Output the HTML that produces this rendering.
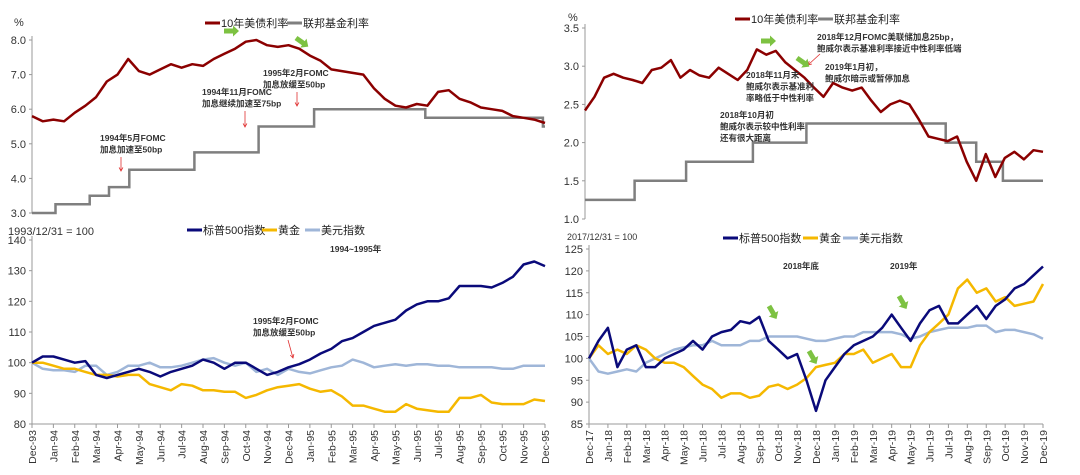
<!DOCTYPE html>
<html><head><meta charset="utf-8">
<style>
html,body{margin:0;padding:0;background:#fff;}
svg{display:block;font-family:"Liberation Sans","Noto Sans CJK SC",sans-serif;}
</style></head>
<body>
<svg id="c" width="1080" height="475" viewBox="0 0 1080 475" xmlns="http://www.w3.org/2000/svg"></svg>
<script>
// ---------- DATA ----------
const tlYield=[5.8,5.65,5.7,5.65,5.9,6.1,6.35,6.8,7.0,7.45,7.1,7.0,7.15,7.3,7.2,7.3,7.25,7.45,7.6,7.75,7.95,8.0,7.85,7.8,7.85,7.75,7.55,7.4,7.15,7.1,7.05,7.0,6.6,6.3,6.1,6.05,6.15,6.1,6.5,6.55,6.3,6.2,6.05,6.0,5.95,5.8,5.75,5.7,5.6];
const tlFedMonths=[0,1.1,2.7,3.6,4.55,7.6,10.6,13.2,18.4,23.9];
const tlFedRates=[3.0,3.25,3.5,3.75,4.25,4.75,5.5,6.0,5.75,5.5];
const trYield=[2.42,2.6,2.85,2.9,2.85,2.82,2.78,2.95,2.98,3.08,2.85,2.95,2.88,2.85,2.98,2.9,2.82,2.95,3.22,3.15,3.2,3.05,2.95,2.85,2.72,2.6,2.78,2.72,2.68,2.72,2.55,2.4,2.5,2.55,2.5,2.3,2.08,2.05,2.02,2.08,1.75,1.5,1.85,1.55,1.8,1.88,1.78,1.9,1.88];
const trFedMonths=[0,2.6,5.3,8.8,11.6,18.9,20.5,21.9];
const trFedRates=[1.25,1.5,1.75,2.0,2.25,2.0,1.75,1.5];
const blSpx=[100,102,102,101,100,100.5,96,95,96,97,98,97,95.5,97,98,99,101,100,98,100,100,98,96,97,98.5,99.5,101,103,104.5,107,108,110,112,113,114,117,119,120,120,121,125,125,125,124.5,126,128,132,133,131.5];
const blGold=[100,100,99,98,98,97,96,96,95.5,96,96,93,92,91,93,92.5,91,91,90.5,90.5,88.5,89.5,91,92,92.5,93,91.5,90.5,91,89,86,86,85,84,84,86.5,85,84.5,84,84,88.5,88.5,89.5,87,86.5,86.5,86.5,88,87.5];
const blUsd=[100,98,97.5,97.5,97,99,99,96,97,99,99,100,98.5,98.5,99,100,101,101.5,100,99,100,97,98,96,98,97,96.5,97.5,98.5,99,101,100,98.5,99,99.5,99,99.5,99.5,99,99,98.5,98.5,98.5,98.5,98,98,99,99,99];
const brSpx=[100,104,107,98,102,103,98,98,100,101,102,104,102,105,106,106.5,108.5,108,109.5,104,102,100,101,95,88,95,98,101,103,104,105,107,110,107,104,108,111,112,108,108,110,112,109,112,113.5,116,117,119,121];
const brGold=[100,103,101,102,101,103,102,100,99,99,98,96,94,93,91,92,92,91,91.5,93.5,94,93,94,95.5,98,98.5,99,101,101,102,99,100,101,98,98,103,106,108,110,116,118,115,116,113,114,112,112.5,113,117];
const brUsd=[100,97,96.5,97,97.5,97,99,100,101,102,102.5,103,103,104,103,103,103,104,104,105,105,105,105,104.5,104,104,104.5,105,105,106,106,106,106,105.5,104.5,105,106,106.5,107,107,107,107.5,107.5,106,106.5,106.5,106,105.5,104.5];
const blMonths=["Dec-93","Jan-94","Feb-94","Mar-94","Apr-94","May-94","Jun-94","Jul-94","Aug-94","Sep-94","Oct-94","Nov-94","Dec-94","Jan-95","Feb-95","Mar-95","Apr-95","May-95","Jun-95","Jul-95","Aug-95","Sep-95","Oct-95","Nov-95","Dec-95"];
const brMonths=["Dec-17","Jan-18","Feb-18","Mar-18","Apr-18","May-18","Jun-18","Jul-18","Aug-18","Sep-18","Oct-18","Nov-18","Dec-18","Jan-19","Feb-19","Mar-19","Apr-19","May-19","Jun-19","Jul-19","Aug-19","Sep-19","Oct-19","Nov-19","Dec-19"];
const tlTicks=[3,4,5,6,7,8];
const trTicks=[1.0,1.5,2.0,2.5,3.0,3.5];
const blTicks=[80,90,100,110,120,130,140];
const brTicks=[85,90,95,100,105,110,115,120,125];

// ---------- HELPERS ----------
const NS="http://www.w3.org/2000/svg";
const svg=document.getElementById('c');
function mk(tag,attrs,parent){const e=document.createElementNS(NS,tag);for(const k in attrs)e.setAttribute(k,attrs[k]);(parent||svg).appendChild(e);return e;}
function txt(x,y,s,size,extra){const e=mk('text',Object.assign({x:x,y:y,'font-size':size,fill:'#222'},extra||{}));e.textContent=s;return e;}
function panel(x0,x1,yTop,yBot,vMin,vMax){return {x:m=>x0+(x1-x0)*m/24,y:v=>yBot-(yBot-yTop)*(v-vMin)/(vMax-vMin),x0,x1,yTop,yBot};}
function series(p,arr,color,w,name){let d='';arr.forEach((v,i)=>{d+=(i?'L':'M')+p.x(i/2).toFixed(1)+','+p.y(v).toFixed(1);});
 const e=mk('path',{d:d,fill:'none',stroke:color,'stroke-width':w,'stroke-linejoin':'round'});
 
 }
function steps(p,months,rates,name){let d='';months.forEach((m,i)=>{const x=p.x(m).toFixed(1),y=p.y(rates[i]).toFixed(1);d+=i?('H'+x+'V'+y):('M'+x+','+y);});d+='H'+p.x(24).toFixed(1);
 const e=mk('path',{d:d,fill:'none',stroke:'#7f7f7f','stroke-width':2.5});
 
 }
function yAxis(p,ticks,dec,name){const g=mk('g',{});
 mk('line',{x1:p.x0,x2:p.x0,y1:p.yTop-4,y2:p.yBot,stroke:'#999','stroke-width':1},g);
 ticks.forEach(t=>{const y=p.y(t);mk('line',{x1:p.x0-3,x2:p.x0,y1:y,y2:y,stroke:'#999'},g);const tt=mk('text',{x:p.x0-6,y:y+4,'font-size':11,'text-anchor':'end',fill:'#333'},g);tt.textContent=t.toFixed(dec);});}
function xAxis(p,labels,name){const g=mk('g',{});
 mk('line',{x1:p.x0,x2:p.x1,y1:p.yBot,y2:p.yBot,stroke:'#999'},g);
 labels.forEach((l,i)=>{const x=p.x(i);mk('line',{x1:x,x2:x,y1:p.yBot,y2:p.yBot+4,stroke:'#999'},g);
  const t=mk('text',{x:0,y:0,'font-size':10.5,fill:'#333','text-anchor':'end',transform:`translate(${x+4},${p.yBot+6}) rotate(-90)`},g);t.textContent=l;});}
function legend(items,y){items.forEach(it=>{const g=mk('g',{});
 mk('line',{x1:it[0],x2:it[0]+15,y1:y,y2:y,stroke:it[1],'stroke-width':3},g);
 const t=mk('text',{x:it[0]+16,y:y+4,'font-size':11,fill:'#222'},g);t.textContent=it[2];});}
function redArrow(x1,y1,x2,y2,name){const g=mk('g',{});
 mk('line',{x1,y1,x2,y2,stroke:'#e03030','stroke-width':0.8},g);
 const a=Math.atan2(y2-y1,x2-x1),s=4;
 mk('path',{d:`M${x2-s*Math.cos(a-0.5)},${y2-s*Math.sin(a-0.5)}L${x2},${y2}L${x2-s*Math.cos(a+0.5)},${y2-s*Math.sin(a+0.5)}`,fill:'none',stroke:'#e03030','stroke-width':0.8},g);}
function greenArrow(x,y,ang,name){const g=mk('g',{transform:`translate(${x},${y}) rotate(${ang})`});
 mk('path',{d:'M0,-2.5H9V-5.5L15,0L9,5.5V2.5H0Z',fill:'#7dc242'},g);}
function note(x,y,lines,name){const g=mk('g',{});
 lines.forEach((l,i)=>{const t=mk('text',{x:x,y:y+i*11.5,'font-size':8.5,'font-weight':'bold',fill:'#333'},g);t.textContent=l;});}

// ---------- PANELS ----------
const tl=panel(32,545,40,213,3,8);
const tr=panel(585,1043,28,219,1,3.5);
const bl=panel(32,545,240,424,80,140);
const br=panel(589,1043,249,424,85,125);

yAxis(tl,tlTicks,1,'tl-y-axis');
yAxis(tr,trTicks,1,'tr-y-axis');
yAxis(bl,blTicks,0,'bl-y-axis');
yAxis(br,brTicks,0,'br-y-axis');
xAxis(bl,blMonths,'bl-x-axis');
xAxis(br,brMonths,'br-x-axis');

steps(tl,tlFedMonths,tlFedRates,'tl-fed-funds-line');
series(tl,tlYield,'#8b0000',2.5,'tl-10y-yield-line');
steps(tr,trFedMonths,trFedRates,'tr-fed-funds-line');
series(tr,trYield,'#8b0000',2.5,'tr-10y-yield-line');

series(bl,blUsd,'#9fb6d8',2.5,'bl-usd-index-line');
series(bl,blGold,'#f5b800',2.5,'bl-gold-line');
series(bl,blSpx,'#0a0a7a',2.5,'bl-sp500-line');
series(br,brUsd,'#9fb6d8',2.5,'br-usd-index-line');
series(br,brGold,'#f5b800',2.5,'br-gold-line');
series(br,brSpx,'#0a0a7a',2.5,'br-sp500-line');

// unit labels
txt(14,26,'%',11,{fill:'#333'});
txt(568,21,'%',11,{fill:'#333'});
txt(8,235,'1993/12/31 = 100',11,{fill:'#333'});
txt(567,240,'2017/12/31 = 100',9,{fill:'#333'});

// legends
legend([[205,'#8b0000','10年美债利率','tl-legend-yield'],[287,'#7f7f7f','联邦基金利率','tl-legend-fed']],23);
legend([[735,'#8b0000','10年美债利率','tr-legend-yield'],[818,'#7f7f7f','联邦基金利率','tr-legend-fed']],19);
legend([[187,'#0a0a7a','标普500指数','bl-legend-sp500'],[262,'#f5b800','黄金','bl-legend-gold'],[305,'#9fb6d8','美元指数','bl-legend-usd']],230);
legend([[723,'#0a0a7a','标普500指数','br-legend-sp500'],[803,'#f5b800','黄金','br-legend-gold'],[843,'#9fb6d8','美元指数','br-legend-usd']],238);

// annotations top-left
note(263,76,['1995年2月FOMC','加息放缓至50bp'],'tl-note-feb95');
redArrow(297,92,297,106,'tl-arrow-feb95');
note(202,95,['1994年11月FOMC','加息继续加速至75bp'],'tl-note-nov94');
redArrow(245,111,245,127,'tl-arrow-nov94');
note(100,141,['1994年5月FOMC','加息加速至50bp'],'tl-note-may94');
redArrow(121,157,121,171,'tl-arrow-may94');
greenArrow(224,31,0,'tl-green-arrow-1');
greenArrow(296,38,35,'tl-green-arrow-2');

// annotations top-right
note(817,40,['2018年12月FOMC美联储加息25bp，','鲍威尔表示基准利率接近中性利率低端'],'tr-note-dec18');
redArrow(820,54,808,65,'tr-arrow-dec18');
note(825,70,['2019年1月初，','鲍威尔暗示或暂停加息'],'tr-note-jan19');
note(746,78,['2018年11月末','鲍威尔表示基准利','率略低于中性利率'],'tr-note-nov18');
note(720,118,['2018年10月初','鲍威尔表示较中性利率','还有很大距离'],'tr-note-oct18');
greenArrow(761,41,0,'tr-green-arrow-1');
greenArrow(797,58,35,'tr-green-arrow-2');

// annotations bottom
note(330,252,['1994~1995年'],'bl-note-period');
note(253,324,['1995年2月FOMC','加息放缓至50bp'],'bl-note-feb95');
redArrow(288,340,293,358,'bl-arrow-feb95');
note(783,269,['2018年底'],'br-note-2018');
note(890,269,['2019年'],'br-note-2019');
greenArrow(769,306,60,'br-green-arrow-1');
greenArrow(809,351,60,'br-green-arrow-2');
greenArrow(899,296,60,'br-green-arrow-3');
</script>
</body></html>
